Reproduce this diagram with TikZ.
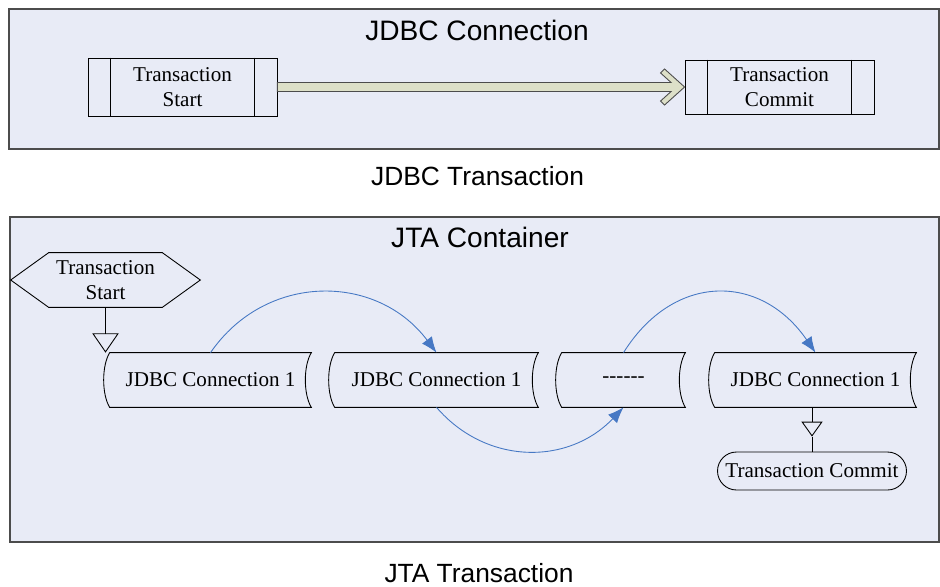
\documentclass[tikz,border=0pt]{standalone}
\usepackage{fontspec}
\setmainfont{Liberation Serif}
\setsansfont{Liberation Sans}
\usetikzlibrary{arrows.meta,calc}
\definecolor{panelbg}{RGB}{232,235,246}
\definecolor{shaftfill}{RGB}{221,224,200}
\definecolor{hopblue}{RGB}{70,120,196}
\begin{document}
\begin{tikzpicture}[
      x=0.02cm, y=-0.02cm,
      panel/.style={draw=black!70, fill=panelbg, line width=0.7pt},
      heading/.style={anchor=base, font=\sffamily\fontsize{16}{19}\selectfont},
      caption/.style={anchor=base, font=\sffamily\fontsize{15}{18}\selectfont},
      proc/.style={draw, line width=0.5pt, align=center, minimum width=3.78cm,
      font=\fontsize{12}{14.2}\selectfont},
      blank/.style={align=center, inner sep=0pt, minimum height=1.08cm,
      font=\fontsize{12}{14.2}\selectfont},
      hop/.style={hopblue, line width=0.5pt, -{Latex[length=9pt,width=7pt]}},
      bigarrow/.style={draw=black!70, fill=shaftfill, line width=0.5pt},
    ]
    \useasboundingbox (0,0) rectangle (940,586);
    \draw[panel] (9,9) rectangle (939,149);
    \draw[panel] (10,217) rectangle (939,542);

    \node[heading] (jdbctitle) at (477,40) {JDBC Connection};
    \node[proc, minimum height=1.16cm] (ts) at (182.5,87) {Transaction\\Start};
    \node[proc, minimum height=1.08cm] (tc) at (779.5,87) {Transaction\\Commit};
    \foreach \n in {ts,tc}
      \draw[line width=0.5pt] ($(\n.north west)+(23,0)$) -- ($(\n.south west)+(23,0)$)
        ($(\n.north east)+(-23,0)$) -- ($(\n.south east)+(-23,0)$);
    \filldraw[bigarrow] ($(ts.east)+(0,-4.5)$) -- ($(tc.west)+(-13.5,-4.5)$)
      -- ($(tc.west)+(-24,-14)$) -- ($(tc.west)+(-20,-18)$) -- (tc.west)
      -- ($(tc.west)+(-20,18)$) -- ($(tc.west)+(-24,14)$)
      -- ($(tc.west)+(-13.5,4.5)$) -- ($(ts.east)+(0,4.5)$) -- cycle;
    \node[caption] (jdbccap) at (477.5,185) {JDBC Transaction};

    \node[heading] (jtatitle) at (480,247) {JTA Container};
    \node[blank, minimum width=3.78cm] (hs) at (105.5,280) {Transaction\\Start};
    \draw[line width=0.5pt] (hs.west) -- ($(hs.north west)+(38,0)$)
      -- ($(hs.north east)+(-38,0)$) -- (hs.east) -- ($(hs.south east)+(-38,0)$)
      -- ($(hs.south west)+(38,0)$) -- cycle;
    \node[blank, minimum width=4.02cm] (c1) at (210.5,380) {JDBC Connection 1};
    \node[blank, minimum width=4.06cm] (c2) at (436.5,380) {JDBC Connection 1};
    \node[blank, minimum width=2.46cm] (c3) at (623.5,380) {-{}-{}-{}-{}-{}-};
    \node[blank, minimum width=4.02cm] (c4) at (815.5,380) {JDBC Connection 1};
    \foreach \n in {c1,c2,c3,c4}
      \draw[line width=0.5pt] (\n.north west) .. controls +(-8,13) and +(-8,-13) .. (\n.south west)
        -- (\n.south east) .. controls +(-8,-13) and +(-8,13) .. (\n.north east) -- cycle;
    \node[draw, line width=0.5pt, rounded corners=0.38cm, minimum width=3.78cm,
      minimum height=0.76cm, font=\fontsize{12}{14.2}\selectfont] (commit) at (812,471)
      {Transaction Commit};
    \coordinate (capex) at ($(commit.north)+(0,-15)$);

    \draw[line width=0.5pt, -{Triangle[open,length=11pt,width=15pt]}] (hs.south) -- (hs.south |- c1.north);
    \draw[line width=0.5pt, -{Triangle[open,length=8.5pt,width=12pt]}] (commit.north |- c4.south) -- (capex);
    \draw[line width=0.5pt] (capex) -- (commit.north);
    \draw[hop] (c1.north) .. controls +(55,-80) and +(-60,-80) .. (c2.north);
    \draw[hop] (c2.south) .. controls +(50,58) and +(-55,58) .. (c3.south);
    \draw[hop] (c3.north) .. controls +(50,-80) and +(-55,-80) .. (c4.north);
    \node[caption] (jtacap) at (479,582) {JTA Transaction};
  \end{tikzpicture}
\end{document}
